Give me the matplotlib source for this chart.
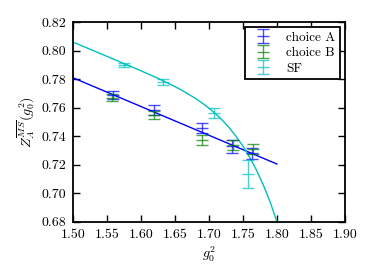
import matplotlib
matplotlib.use("Agg")
import matplotlib.pyplot as plt
import numpy as np

# data
a_x = [1.559, 1.619, 1.690, 1.734, 1.764]
a_y = [0.769, 0.7585, 0.746, 0.733, 0.728]
a_err = [0.003, 0.0035, 0.0035, 0.0045, 0.004]

b_x = [1.558, 1.620, 1.690, 1.735, 1.765]
b_y = [0.767, 0.755, 0.737, 0.734, 0.731]
b_err = [0.0025, 0.003, 0.0035, 0.0035, 0.0035]

sf_x = [1.5755, 1.632, 1.708, 1.758]
sf_y = [0.790, 0.778, 0.756, 0.7135]
sf_err = [0.0015, 0.002, 0.0035, 0.0095]

# fit curves
fit_a_x = [1.50, 1.80]
fit_a_y = [0.781, 0.7205]
fit_sf_x = [1.50, 1.55, 1.60, 1.625, 1.65, 1.66, 1.68, 1.69, 1.70, 1.71, 1.72, 1.73,
            1.74, 1.75, 1.76, 1.77, 1.78, 1.785, 1.79, 1.795, 1.80]
fit_sf_y = [0.806, 0.796, 0.7859, 0.7806, 0.7748, 0.7723, 0.7666, 0.7633, 0.7597,
            0.7557, 0.7511, 0.7459, 0.7399, 0.7331, 0.7252, 0.7162, 0.7058, 0.700,
            0.694, 0.6871, 0.680]

xticks = [1.50, 1.55, 1.60, 1.65, 1.70, 1.75, 1.80, 1.85, 1.90]
yticks = [0.68, 0.70, 0.72, 0.74, 0.76, 0.78, 0.80, 0.82]

plt.rcParams['font.family'] = 'serif'
plt.rcParams['font.serif'] = ['cmr10', 'DejaVu Serif']
plt.rcParams['mathtext.fontset'] = 'cm'
plt.rcParams['axes.formatter.use_mathtext'] = True
plt.rcParams['font.size'] = 10

fig = plt.figure(figsize=(3.74, 2.80), dpi=100)
ax = fig.add_axes([0.195, 0.208, 0.727, 0.713])

blue = '#0000ff'
green = '#008000'
cyan = '#00bfbf'

ax.plot(fit_a_x, fit_a_y, color=blue, lw=1.0)
ax.plot(fit_sf_x, fit_sf_y, color=cyan, lw=1.0)

ax.errorbar(a_x, a_y, yerr=a_err, fmt='_', color=blue, ms=8, capsize=4,
            elinewidth=1.0, capthick=1.0, mew=1.0, alpha=0.7, label='choice A')
ax.errorbar(b_x, b_y, yerr=b_err, fmt='_', color=green, ms=8, capsize=4,
            elinewidth=1.0, capthick=1.0, mew=1.0, alpha=0.7, label='choice B')
ax.errorbar(sf_x, sf_y, yerr=sf_err, fmt='_', color=cyan, ms=8, capsize=4,
            elinewidth=1.0, capthick=1.0, mew=1.0, alpha=0.7, label='SF')

ax.set_xlim(1.50, 1.90)
ax.set_ylim(0.68, 0.82)
ax.set_xticks(xticks)
ax.set_yticks(yticks)
ax.set_xticklabels(['%.2f' % t for t in xticks])
ax.set_yticklabels(['%.2f' % t for t in yticks])
ax.tick_params(direction='in', length=5, width=1.0, top=True, right=True, pad=5)
for s in ax.spines.values():
    s.set_linewidth(1.3)

ax.set_xlabel(r'$g_0^2$', labelpad=3)
ax.set_ylabel(r'$Z_A^{\overline{MS}}(g_0^2)$', labelpad=3)

leg = ax.legend(loc='upper right', fancybox=False, framealpha=1, edgecolor='black',
                borderaxespad=0.35, handlelength=2.0, handletextpad=0.8, fontsize=9.5,
                labelspacing=0.25, borderpad=0.35)
leg.get_frame().set_linewidth(1.3)

fig.savefig('out.png', dpi=100, facecolor='white')
